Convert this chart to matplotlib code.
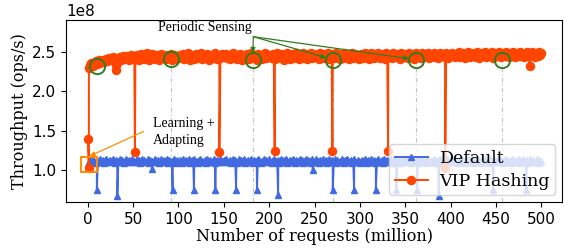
import numpy as np
import matplotlib
matplotlib.use("Agg")
import matplotlib.pyplot as plt
from matplotlib.patches import Rectangle

SCALE = 1e8      # axis values are in ops/s
CENTI = 100.0    # base series below are typed in units of 0.01e8 ops/s

# ---------------- data ----------------
# Default: steady level sampled every ~1.25 M requests from 0 to 500
default_base = [
    108,
    111,113,110,112,114,111,109,113,112,110,114,111,113,109,112,114,110,112,111,113,110,114,112,109,113,111,112,114,110,113,111,109,112,114,111,113,110,112,114,111,
    112,110,114,111,113,109,112,114,110,113,111,112,114,109,113,110,112,111,114,112,110,113,109,112,114,111,113,110,112,114,109,113,111,112,110,114,112,109,113,111,
    113,111,109,114,112,110,113,111,114,109,112,113,110,114,111,112,109,113,114,110,112,111,113,109,114,112,110,113,111,112,114,109,112,113,110,111,114,112,110,113,
    110,114,112,111,113,109,112,114,110,113,111,109,114,112,113,110,111,114,109,112,113,110,112,114,111,109,113,112,110,114,113,111,109,112,114,110,113,111,112,114,
    112,109,113,114,110,112,111,113,109,114,112,110,113,111,114,109,112,113,110,112,114,111,109,113,112,110,114,111,113,109,112,114,110,113,111,112,109,114,112,110,
    114,111,112,109,113,110,114,112,111,113,109,112,114,110,113,111,112,114,109,113,110,112,111,114,112,109,113,110,114,111,112,113,109,112,114,110,111,113,112,109,
    111,113,110,114,112,109,113,111,112,114,110,113,109,112,111,114,112,110,113,109,114,111,112,113,110,112,114,109,113,111,110,114,112,113,109,111,112,114,110,113,
    113,110,112,114,109,113,111,112,110,114,113,109,112,111,114,110,112,113,109,114,111,112,110,113,114,109,112,111,113,110,114,112,109,113,111,112,114,110,113,111,
    110,112,114,111,113,109,112,110,114,113,111,112,109,114,110,113,112,111,114,109,112,113,110,114,111,112,109,113,114,110,112,111,113,109,114,112,110,113,111,112,
    112,114,110,113,111,109,112,114,111,113,110,112,109,114,113,111,112,110,114,109,113,112,111,114,110,112,113,109,111,114,112,110,113,111,112,114,109,113,111,112,
]
default_dip_x = [10, 32.6, 71, 93.5, 117, 140.6, 163.5, 186.5, 209.8, 248, 270, 293.5, 317.5, 340, 363, 386.8, 446.5, 483.5]
default_dip_y = [0.755, 0.68, 1.01, 0.755, 0.755, 0.755, 0.755, 0.755, 0.69, 1.00, 0.755, 0.755, 0.755, 0.755, 0.755, 0.68, 0.755, 0.755]

# VIP Hashing: steady level sampled every ~1.25 M requests from 1.25 to 500
vip_base = [
    230,233,236,234,232,236,238,235,237,239,236,238,240,237,239,241,238,240,242,239,241,243,240,242,233,236,241,243,240,242,244,241,243,245,242,240,244,246,243,241,
    244,241,246,243,240,245,247,242,244,241,246,248,243,240,245,242,247,244,241,246,243,245,240,244,247,242,245,243,241,246,244,242,247,240,243,246,244,241,245,243,
    246,242,244,247,241,245,243,248,244,240,246,243,245,241,247,244,242,246,243,248,241,245,244,242,247,243,240,245,246,242,244,248,243,241,246,244,242,247,245,243,
    244,247,242,245,241,246,243,248,244,242,246,241,245,247,243,240,246,244,242,247,245,241,244,248,243,246,242,245,240,247,244,243,246,241,245,248,242,244,246,243,
    245,242,247,244,241,246,248,243,245,242,247,244,240,246,243,248,245,241,244,247,242,246,244,248,243,241,246,245,242,248,244,246,241,247,243,245,248,242,246,244,
    243,247,245,241,248,244,246,242,247,245,243,248,241,246,244,247,242,245,248,243,246,241,247,244,242,248,245,243,246,241,247,244,248,242,245,247,243,246,241,245,
    247,244,242,248,245,243,247,241,246,248,244,242,247,245,243,248,246,242,245,247,244,241,248,246,243,245,247,242,248,244,246,243,247,245,241,248,244,246,243,247,
    245,242,248,246,243,247,244,241,248,245,243,247,246,242,248,244,247,245,243,248,242,246,247,244,248,243,245,247,242,246,248,244,247,245,243,248,246,242,247,245,
    248,244,246,243,247,245,249,243,246,248,244,247,242,246,249,245,243,248,246,244,247,243,249,245,242,248,246,244,247,249,243,246,248,244,245,249,242,247,246,244,
    247,245,249,243,246,248,244,247,249,245,243,248,246,244,249,247,243,246,248,245,249,244,247,246,243,248,249,245,247,244,246,249,245,243,248,247,245,249,246,248,
]
vip_extra_x = [0, 1.2, 31.5, 52, 145, 206, 269.6, 331, 394, 487]
vip_extra_y = [1.40, 1.03, 2.27, 1.225, 1.23, 1.245, 1.245, 1.245, 1.03, 2.32]

sensing_x = [10, 91.6, 181.7, 270, 361.5, 456.8]
sensing_y = [2.32, 2.41, 2.40, 2.40, 2.40, 2.40]

xticks = [0, 50, 100, 150, 200, 250, 300, 350, 400, 450, 500]
yticks = [1.0, 1.5, 2.0, 2.5]


def merge(bx, by, ex, ey):
    x = np.concatenate([bx, ex])
    y = np.concatenate([by, ey])
    order = np.argsort(x, kind="stable")
    return x[order], y[order]


default_bx = np.linspace(0, 500, len(default_base))
vip_bx = np.linspace(1.25, 500, len(vip_base))
dx, dy = merge(default_bx, np.array(default_base) / CENTI,
               np.array(default_dip_x, float), np.array(default_dip_y))
vx, vy = merge(vip_bx, np.array(vip_base) / CENTI,
               np.array(vip_extra_x, float), np.array(vip_extra_y))

# ---------------- figure ----------------
fig = plt.figure(figsize=(5.64, 2.48), dpi=100)
ax = fig.add_axes([0.117, 0.186, 0.880, 0.733])

blue = "#4169e1"
orange = "#ff4500"
green = "#2f7d1f"

# sensing guide lines
ax.vlines(sensing_x[1:], 0.6 * SCALE, np.array(sensing_y[1:]) * SCALE,
          colors="#c4c4c4", linestyles=(0, (4, 2, 1, 2)), linewidth=0.8, zorder=1)

ax.plot(dx, dy * SCALE, color=blue, marker="^", markersize=5, linewidth=1.4,
        label="Default", zorder=2)
ax.plot(vx, vy * SCALE, color=orange, marker="o", markersize=5.8, linewidth=1.4,
        label="VIP Hashing", zorder=3)

ax.plot(sensing_x, np.array(sensing_y) * SCALE, linestyle="none", marker="o",
        markersize=11, markerfacecolor="none", markeredgecolor=green,
        markeredgewidth=1.4, zorder=5)

# annotations
txt_font = dict(family="Liberation Serif", fontsize=10)
ax.text(129, 2.80 * SCALE, "Periodic Sensing", ha="center", va="center", **txt_font, zorder=6)
for sx, sy in zip(sensing_x[2:5], sensing_y[2:5]):
    ax.annotate("", xy=(sx, sy * SCALE), xytext=(182.5, 2.69 * SCALE),
                arrowprops=dict(arrowstyle="-|>", color=green, lw=0.9,
                                shrinkA=0, shrinkB=5, mutation_scale=7), zorder=6)

ax.text(71.5, 1.49 * SCALE, "Learning +\nAdapting", ha="left", va="center",
        linespacing=1.4, **txt_font, zorder=6)
ax.annotate("", xy=(2.2, 1.18 * SCALE), xytext=(61.5, 1.49 * SCALE),
            arrowprops=dict(arrowstyle="-|>", color="darkorange", lw=0.9,
                            shrinkA=0, shrinkB=0, mutation_scale=7), zorder=6)
ax.add_patch(Rectangle((-7.7, 0.98 * SCALE), 17.6, 0.19 * SCALE, fill=False,
                       edgecolor="darkorange", linewidth=1.4, zorder=6))

ax.set_xlim(-24, 523)
ax.set_ylim(0.6 * SCALE, 2.9 * SCALE)
ax.set_xticks(xticks)
ax.set_yticks(np.array(yticks) * SCALE)
ax.tick_params(labelsize=11)
ax.yaxis.get_offset_text().set_fontsize(11)

ax.set_xlabel("Number of requests (million)", family="DejaVu Serif", fontsize=11.5, labelpad=1)
ax.set_ylabel("Throughput (ops/s)", family="DejaVu Serif", fontsize=11.5, labelpad=3)

leg = ax.legend(loc="lower right", prop=dict(family="DejaVu Serif", size=12.5),
                borderaxespad=0.4, handlelength=1.9, labelspacing=0.35,
                borderpad=0.3, handletextpad=0.7)
leg.set_zorder(10)

fig.savefig("out.png", dpi=100)
